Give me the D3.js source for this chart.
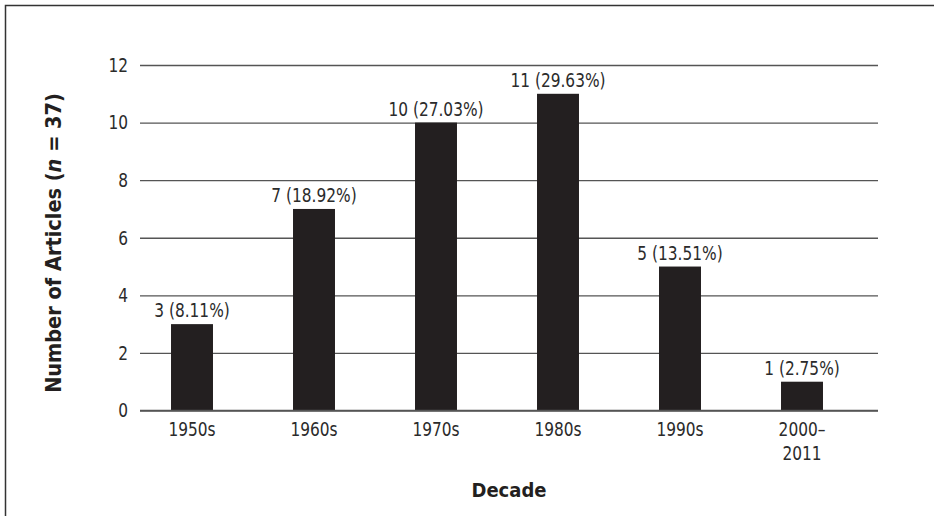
<!DOCTYPE html>
<html>
<head>
<meta charset="utf-8">
<script src="https://cdn.jsdelivr.net/npm/d3@7"></script>
<style>
  html, body { margin: 0; padding: 0; background: #fff; }
  svg { display: block; }
  .label { font-family: "DejaVu Sans Condensed", "DejaVu Sans", sans-serif; fill: #2b2b2b; }
  .title { font-family: "DejaVu Sans Condensed", "DejaVu Sans", sans-serif; font-weight: bold; fill: #231f20; }
</style>
</head>
<body>
<svg id="chart" width="934" height="516"></svg>
<script>
// Articles per decade
const decades = ["1950s", "1960s", "1970s", "1980s", "1990s", "2000–2011"];
const counts = [3, 7, 10, 11, 5, 1];
const percents = ["8.11%", "18.92%", "27.03%", "29.63%", "13.51%", "2.75%"];
const yTicks = [0, 2, 4, 6, 8, 10, 12];

const svg = d3.select("#chart");
const W = 934, H = 516;
const FS = 19;        // label font size
const SQUEEZE = 0.9;  // horizontal narrowing of label text

// outer frame (left and top edges)
svg.append("path")
  .attr("d", `M5.5,${H} V5.5 H${W}`)
  .attr("fill", "none")
  .attr("stroke", "#333")
  .attr("stroke-width", 1.5);

const plot = { left: 140, right: 878, top: 65, bottom: 410.5 };

const y = d3.scaleLinear().domain([0, 12]).range([plot.bottom, plot.top]);
const x = d3.scaleBand().domain(decades).range([131, 863]).paddingInner(0.656).paddingOuter(0.328);
const cx = d => x(d) + x.bandwidth() / 2;

// narrow text placed at (px, py)
function narrowText(sel, px, py) {
  return sel.attr("transform", (d, i) => `translate(${px(d, i)},${py(d, i)}) scale(${SQUEEZE},1)`);
}

// horizontal grid lines
const yAxis = d3.axisLeft(y).tickValues(yTicks).tickSize(-(plot.right - plot.left)).tickFormat("");
const gy = svg.append("g").attr("transform", `translate(${plot.left},0)`).call(yAxis);
gy.select(".domain").remove();
gy.selectAll(".tick line").attr("stroke", "#555").attr("stroke-width", 1.3);

// y tick values
narrowText(
  svg.append("g").selectAll("text").data(yTicks).join("text")
    .attr("class", "label").attr("font-size", FS).attr("text-anchor", "end")
    .attr("dy", "0.36em").text(d => d),
  () => 128, d => y(d));

// bars
svg.append("g").selectAll("rect")
  .data(counts)
  .join("rect")
  .attr("x", (d, i) => x(decades[i]))
  .attr("y", d => y(d))
  .attr("width", x.bandwidth())
  .attr("height", d => y(0) - y(d))
  .attr("fill", "#231f20");

// value labels above bars
narrowText(
  svg.append("g").selectAll("text").data(counts).join("text")
    .attr("class", "label").attr("font-size", FS).attr("text-anchor", "middle")
    .text((d, i) => `${d} (${percents[i]})`),
  (d, i) => cx(decades[i]), d => y(d) - 7);

// baseline
svg.append("line")
  .attr("x1", plot.left).attr("x2", plot.right)
  .attr("y1", y(0)).attr("y2", y(0))
  .attr("stroke", "#555").attr("stroke-width", 1.5);

// category labels, split after the en dash into two lines
const xl = narrowText(
  svg.append("g").selectAll("text").data(decades).join("text")
    .attr("class", "label").attr("font-size", FS).attr("text-anchor", "middle"),
  d => cx(d), () => 436);
xl.each(function(d) {
  const k = d.indexOf("–");
  const parts = k >= 0 ? [d.slice(0, k + 1), d.slice(k + 1)] : [d];
  d3.select(this).selectAll("tspan")
    .data(parts)
    .join("tspan")
    .attr("x", 0)
    .attr("dy", (p, i) => i === 0 ? 0 : 24)
    .text(p => p);
});

// axis titles
svg.append("text")
  .attr("class", "title")
  .attr("x", (plot.left + plot.right) / 2)
  .attr("y", 497)
  .attr("text-anchor", "middle")
  .attr("font-size", 20)
  .text("Decade");

const yt = svg.append("text")
  .attr("class", "title")
  .attr("transform", `translate(61,243) rotate(-90)`)
  .attr("text-anchor", "middle")
  .attr("font-size", 21.5);
yt.append("tspan").text("Number of Articles (");
yt.append("tspan").attr("font-style", "italic").text("n");
yt.append("tspan").text(" = 37)");
</script>
</body>
</html>
